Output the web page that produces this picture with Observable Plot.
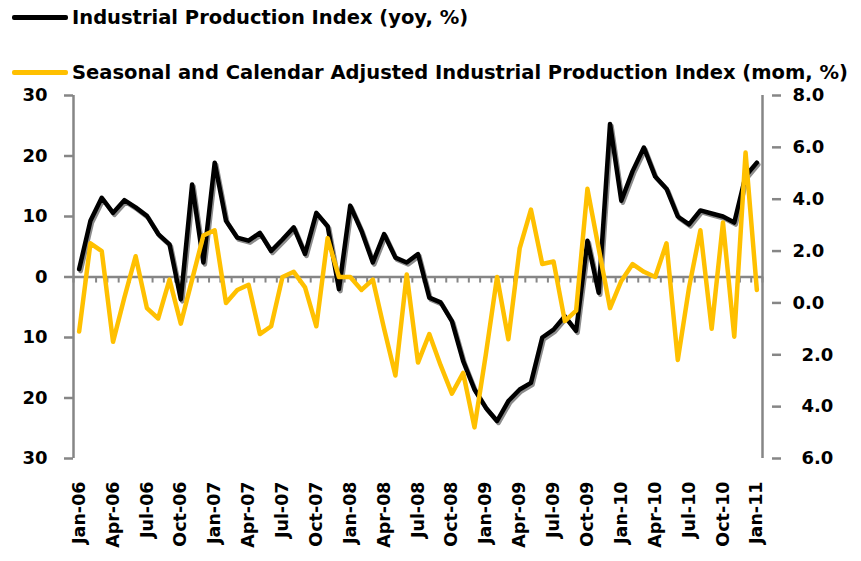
<!DOCTYPE html>
<html><head><meta charset="utf-8">
<script src="https://cdn.jsdelivr.net/npm/d3@7"></script>
<script src="https://cdn.jsdelivr.net/npm/@observablehq/plot@0.6"></script>
<style>
body{margin:0;background:#fff;}
#wrap{width:861px;height:561px;position:relative;overflow:hidden;background:#fff;}
#legend{height:85px;position:relative;font-family:"DejaVu Sans",sans-serif;font-weight:bold;font-size:19.5px;color:#000;}
.item{position:absolute;left:12px;height:22px;display:flex;align-items:center;white-space:nowrap;}
.sw{width:56px;height:5px;border-radius:2px;margin-right:4px;flex:none;}
</style></head>
<body><div id="wrap"><div id="legend"></div><div id="chart"></div></div>
<script>
// ---- data ----
const tickLabels = ["Jan-06","Apr-06","Jul-06","Oct-06","Jan-07","Apr-07","Jul-07","Oct-07",
  "Jan-08","Apr-08","Jul-08","Oct-08","Jan-09","Apr-09","Jul-09","Oct-09",
  "Jan-10","Apr-10","Jul-10","Oct-10","Jan-11"];
// Industrial Production Index (yoy, %), monthly Jan-06 .. Jan-11 (left axis)
const yoy = [1.3, 9.3, 13.1, 10.6, 12.7, 11.5, 10.1, 7.1, 5.4, -3.7, 15.3, 2.4,
  18.9, 9.3, 6.5, 6.0, 7.3, 4.3, 6.2, 8.2, 3.8, 10.6, 8.4, -2.0,
  11.8, 7.6, 2.4, 7.1, 3.2, 2.4, 3.8, -3.4, -4.2, -7.3, -13.9, -18.6,
  -21.6, -23.8, -20.5, -18.6, -17.5, -10.0, -8.7, -6.5, -8.9, 6.0, -2.6, 25.3,
  12.6, 17.5, 21.4, 16.6, 14.6, 10.0, 8.7, 11.0, 10.5, 10.0, 9.0, 16.7,
  18.9];
// Seasonal and calendar adjusted IPI (mom, %), monthly Jan-06 .. Jan-11 (right axis)
const mom = [-1.1, 2.3, 2.0, -1.5, 0.2, 1.8, -0.2, -0.6, 0.9, -0.8, 0.9, 2.6,
  2.8, 0.0, 0.5, 0.7, -1.2, -0.9, 1.0, 1.2, 0.6, -0.9, 2.5, 1.0,
  1.0, 0.5, 0.9, -1.0, -2.8, 1.1, -2.3, -1.2, -2.4, -3.5, -2.7, -4.8,
  -2.0, 1.0, -1.4, 2.1, 3.6, 1.5, 1.6, -0.7, -0.3, 4.4, 2.1, -0.2,
  0.85, 1.5, 1.2, 1.0, 2.3, -2.2, 0.6, 2.8, -1.0, 3.1, -1.3, 5.8,
  0.5];
const leftTicks = [-30, -20, -10, 0, 10, 20, 30];
const rightTicks = [-6, -4, -2, 0, 2, 4, 6, 8];
const seriesNames = ["Industrial Production Index (yoy, %)",
  "Seasonal and Calendar Adjusted Industrial Production Index (mom, %)"];
const seriesColors = ["#000000", "#FFC000"];

// ---- legend ----
const legend = document.getElementById("legend");
const legendTops = [6, 61];
seriesNames.forEach((name, k) => {
  const it = document.createElement("div");
  it.className = "item";
  it.style.top = legendTops[k] + "px";
  it.innerHTML = `<span class="sw" style="background:${seriesColors[k]}"></span><span>${name}</span>`;
  legend.appendChild(it);
});

// ---- dual axis mapping ----
const L = [leftTicks[0], leftTicks[leftTicks.length - 1]];
const R = [rightTicks[0], rightTicks[rightTicks.length - 1]];
const toLeft = v => L[0] + (v - R[0]) * (L[1] - L[0]) / (R[1] - R[0]);
const fromLeft = d => R[0] + (d - L[0]) * (R[1] - R[0]) / (L[1] - L[0]);

const yoyData = yoy.map((v, i) => ({i, v}));
const momData = mom.map((v, i) => ({i, v: toLeft(v)}));
const n = yoy.length;
const boundaries = d3.range(0, n + 1).map(k => k - 0.5);
const tickPos = tickLabels.map((_, k) => k * 3);
const gray = "#868686";
const font = "'DejaVu Sans', sans-serif";

const chart = Plot.plot({
  width: 861, height: 476,
  marginTop: 10, marginBottom: 103, marginLeft: 73, marginRight: 99,
  style: {fontFamily: font, fontSize: "18px", fontWeight: "bold", color: "#000", background: "#fff", overflow: "visible"},
  x: {domain: [-0.5, n - 0.5]},
  y: {domain: L},
  marks: [
    Plot.axisX({ticks: tickPos, tickFormat: d => tickLabels[Math.round(d / 3)], tickRotate: -90,
      tickSize: 0, tickPadding: 23, label: null, fontSize: 17.5}),
    Plot.axisY({anchor: "left", ticks: leftTicks, tickFormat: d => String(Math.abs(d)),
      tickSize: 9, tickPadding: 17, stroke: gray, strokeWidth: 2.5, fill: "#000", label: null}),
    Plot.axisY({anchor: "right", ticks: rightTicks.map(toLeft),
      tickFormat: d => { const v = Math.round(fromLeft(d) * 10) / 10; return (v < 0 ? "\u2002" : "") + Math.abs(v).toFixed(1); },
      tickSize: 9, tickPadding: 12, dx: 9, stroke: gray, strokeWidth: 2.5, fill: "#000", label: null}),
    Plot.ruleX([-0.5, n - 0.5], {stroke: gray, strokeWidth: 2.5}),
    Plot.ruleY([0], {stroke: gray, strokeWidth: 2.5}),
    Plot.ruleX(boundaries, {x: d => d, y1: 0, y2: -1, stroke: gray, strokeWidth: 2}),
    Plot.line(yoyData, {x: "i", y: "v", stroke: "#8c8c8c", strokeWidth: 4.5, dx: 1.5, dy: 2}),
    Plot.line(yoyData, {x: "i", y: "v", stroke: seriesColors[0], strokeWidth: 4.5}),
    Plot.line(momData, {x: "i", y: "v", stroke: seriesColors[1], strokeWidth: 4.5})
  ]
});
document.getElementById("chart").appendChild(chart);
</script>
</body></html>
